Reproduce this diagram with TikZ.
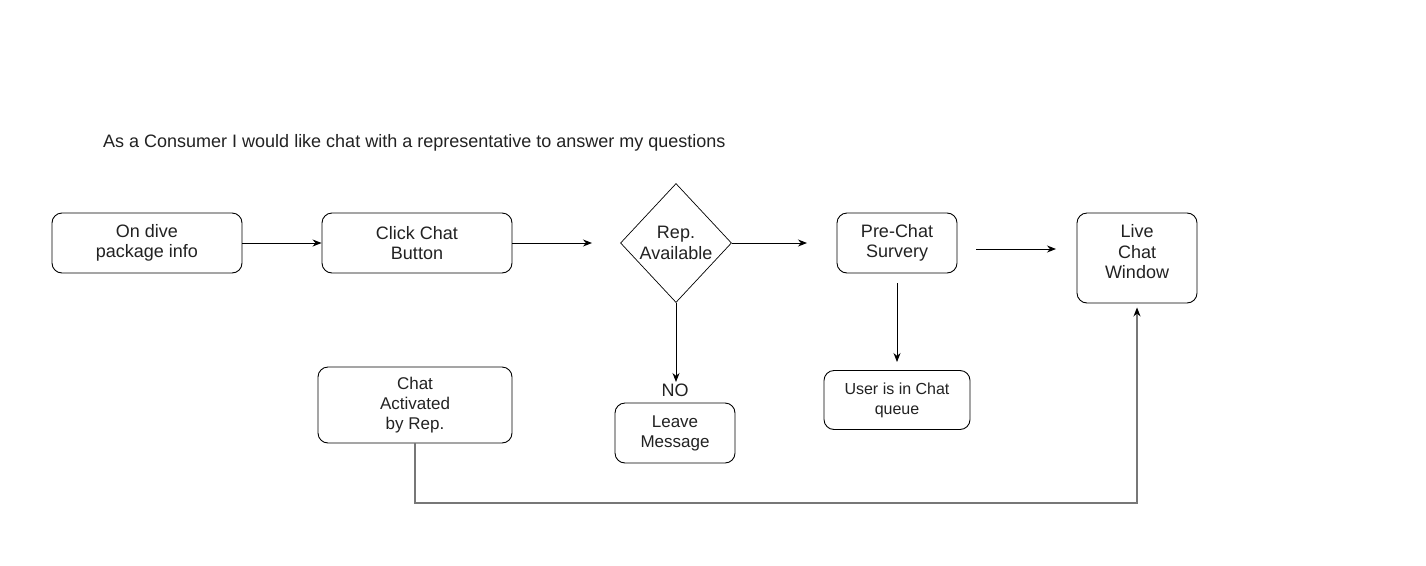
\documentclass[tikz,border=0pt]{standalone}
\usepackage{fontspec}
\setmainfont{Liberation Sans}
\usetikzlibrary{arrows.meta,shapes.geometric}
\definecolor{txt}{HTML}{222222}
\definecolor{conn}{HTML}{777777}
\tikzset{
  box/.style={draw=black, line width=0.9pt, rounded corners=10pt, inner sep=0pt, align=center, text=txt},
  dec/.style={draw=black, line width=0.7pt, diamond, aspect=1, inner sep=0pt, align=center, text=txt, minimum width=111pt, minimum height=119pt},
  lbl/.style={inner sep=0pt, align=center, text=txt},
  arr/.style={line width=1pt, -{Stealth[length=9pt,width=7pt]}},
  garr/.style={line width=1.2pt, draw=conn, -{Stealth[length=9pt,width=7pt,color=black]}, shorten >=4pt},
  big/.style={font=\fontsize{18}{20.5}\selectfont},
  mid/.style={font=\fontsize{17}{20}\selectfont},
  sml/.style={font=\fontsize{16}{20}\selectfont},
}
\begin{document}
\begin{tikzpicture}[x=1pt,y=-1pt]
\useasboundingbox (0,0) rectangle (1426,565);
\fill[white] (0,0) rectangle (1426,565);

\node[lbl, anchor=west, font=\fontsize{18}{20}\selectfont] (title) at (103,143) {As a Consumer I would like chat with a representative to answer my questions};

\node[box, big, minimum width=190pt, minimum height=60pt] (dive) at (147,243) {On dive\\package info};
\node[box, big, minimum width=190pt, minimum height=60pt] (click) at (417,243) {Click Chat\\Button};
\node[dec, big] (rep) at (676,243) {Rep.\\Available};
\node[box, big, minimum width=120pt, minimum height=60pt] (pre) at (897,243) {Pre-Chat\\Survery};
\node[box, minimum width=120pt, minimum height=90pt] (live) at (1137,258) {};
\node[lbl, big] (livet) at (1137,252) {Live\\Chat\\Window};

\node[box, mid, minimum width=194pt, minimum height=76pt] (act) at (415,405) {Chat\\Activated\\by Rep.};
\node[box, mid, minimum width=120pt, minimum height=60pt] (leave) at (675,433) {Leave\\Message};
\node[box, sml, minimum width=146pt, minimum height=59pt] (queue) at (897,400) {User is in Chat\\queue};
\node[lbl, big] (no) at (675,390) {NO};

\coordinate (c1) at (592,243);
\coordinate (c2) at (807,243);
\coordinate (c3) at (976,249);
\coordinate (c4) at (1056,249);
\coordinate (c5) at (897,283);
\coordinate (c6) at (897,362);
\coordinate (c7) at (676,382);
\coordinate (c8) at (415,503);
\coordinate (c9) at (1137,503);

\draw[arr] (dive.east) -- (click.west);
\draw[arr] (click.east) -- (c1);
\draw[arr] (rep.east) -- (c2);
\draw[arr] (c3) -- (c4);
\draw[arr] (c5) -- (c6);
\draw[arr] (rep.south) -- (c7);
\draw[garr] (act.south) -- (c8) -- (c9) -- (live.south);
\end{tikzpicture}
\end{document}
